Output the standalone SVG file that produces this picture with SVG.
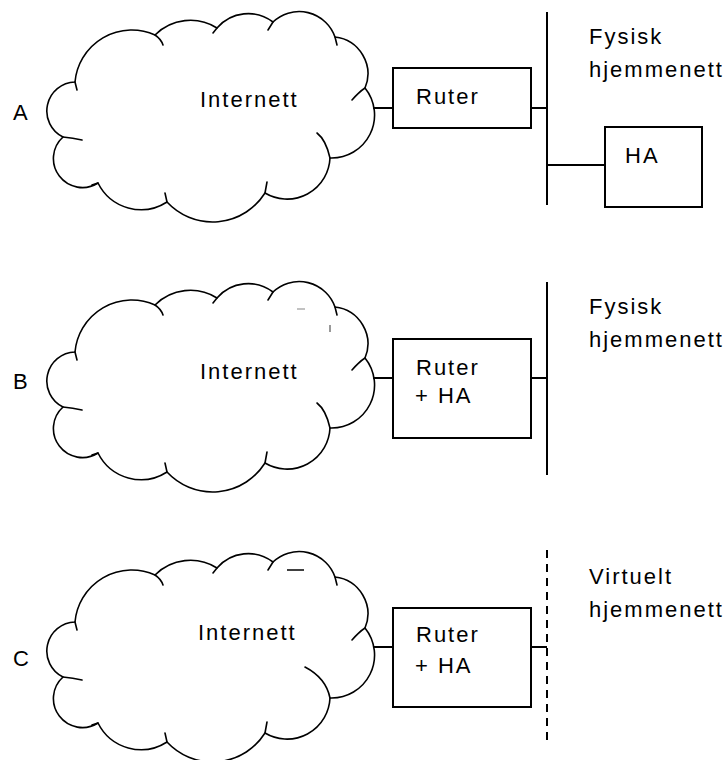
<svg xmlns="http://www.w3.org/2000/svg" xmlns:xlink="http://www.w3.org/1999/xlink" width="728" height="760" viewBox="0 0 728 760">
  <style>
    .bg { fill: #ffffff; }
    .cloud { fill: none; stroke: #000; stroke-width: 1.6; stroke-linejoin: round; stroke-linecap: round; }
    .box { fill: #ffffff; stroke: #000; stroke-width: 2; }
    .wire { fill: none; stroke: #000; stroke-width: 2; }
    .dashed { fill: none; stroke: #000; stroke-width: 2; stroke-dasharray: 8 6; }
    .lbl { font-family: "Liberation Sans", Arial, sans-serif; font-size: 22px; letter-spacing: 2px; fill: #000; }
  </style>
  <defs>
    <!-- scalloped cloud outline, eleven lobes, with short inward ticks at the cusps -->
    <g id="cloud">
      <path class="cloud" d="M155,35 A57,57 0 0,0 75,82 A29,29 0 0,0 63,137 A29,29 0 0,0 98,183 A48,48 0 0,0 167,202 A62,62 0 0,0 265,193 A43,43 0 0,0 330,158 A43,43 0 0,0 365,88 A37,37 0 0,0 335,37 A38,38 0 0,0 273,22 A41,41 0 0,0 217,28 A50,50 0 0,0 155,35 Z"/>
      <path class="cloud" d="M155,35 q6,4 8,10 M75,82 l2,8 M63,137 q10,1 19,3 M98,183 l-6,2 M167,202 l-2,-9 M265,193 l2,-11 M352,100 q7,-8 13,-12 M335,37 l2,8 M273,22 l-5,8 M217,28 l-4,5"/>
    </g>
  </defs>

  <rect class="bg" x="0" y="0" width="728" height="760"/>

  <!-- row A: router and a separate home agent on the physical home network -->
  <g id="labelA"><text class="lbl" x="13" y="120">A</text></g>
  <g id="internetA">
    <use xlink:href="#cloud" href="#cloud"/>
    <path class="cloud" d="M330,158 q-4,-18 -13,-25"/>
    <text class="lbl" x="200" y="107">Internett</text>
  </g>
  <g id="routerA">
    <rect class="box" x="393" y="68" width="138" height="60"/>
    <text class="lbl" x="416" y="104">Ruter</text>
  </g>
  <g id="homeagentA">
    <rect class="box" x="605" y="127" width="97" height="80"/>
    <text class="lbl" x="625" y="163">HA</text>
  </g>
  <g id="homenetA">
    <line class="wire" x1="547" y1="12" x2="547" y2="205"/>
    <text class="lbl" x="589" y="44">Fysisk</text>
    <text class="lbl" x="589" y="77">hjemmenett</text>
  </g>

  <!-- row B: router doubling as home agent, physical home network -->
  <g id="labelB"><text class="lbl" x="13" y="389">B</text></g>
  <g id="internetB">
    <use xlink:href="#cloud" href="#cloud" transform="translate(0,270)"/>
    <path class="cloud" d="M330,428 q-4,-18 -13,-25"/>
    <line x1="297" y1="309" x2="305" y2="309" stroke="#999" stroke-width="1.2"/>
    <line x1="330" y1="325" x2="330" y2="332" stroke="#555" stroke-width="1.2"/>
    <text class="lbl" x="200" y="379">Internett</text>
  </g>
  <g id="routerB">
    <rect class="box" x="393" y="339" width="138" height="99"/>
    <text class="lbl" x="416" y="375">Ruter</text>
    <text class="lbl" x="415" y="403">+ HA</text>
  </g>
  <g id="homenetB">
    <line class="wire" x1="547" y1="282" x2="547" y2="475"/>
    <text class="lbl" x="589" y="314">Fysisk</text>
    <text class="lbl" x="589" y="347">hjemmenett</text>
  </g>

  <!-- row C: router doubling as home agent, virtual home network -->
  <g id="labelC"><text class="lbl" x="13" y="666">C</text></g>
  <g id="internetC">
    <use xlink:href="#cloud" href="#cloud" transform="translate(0,540)"/>
    <path class="cloud" d="M330,698 q-4,-20 -25,-31"/>
    <line x1="287" y1="570" x2="304" y2="570" stroke="#000" stroke-width="1.5"/>
    <text class="lbl" x="198" y="640">Internett</text>
  </g>
  <g id="routerC">
    <rect class="box" x="393" y="608" width="138" height="99"/>
    <text class="lbl" x="416" y="642">Ruter</text>
    <text class="lbl" x="415" y="673">+ HA</text>
  </g>
  <g id="homenetC">
    <line class="dashed" x1="547" y1="550" x2="547" y2="742"/>
    <text class="lbl" x="589" y="584">Virtuelt</text>
    <text class="lbl" x="589" y="617">hjemmenett</text>
  </g>

  <!-- connectors -->
  <g id="connectors">
    <line class="wire" x1="373" y1="108" x2="393" y2="108"/>
    <line class="wire" x1="531" y1="108" x2="547" y2="108"/>
    <line class="wire" x1="547" y1="165" x2="605" y2="165"/>
    <line class="wire" x1="373" y1="378" x2="393" y2="378"/>
    <line class="wire" x1="531" y1="378" x2="547" y2="378"/>
    <line class="wire" x1="373" y1="647" x2="393" y2="647"/>
    <line class="wire" x1="531" y1="647" x2="547" y2="647"/>
  </g>
</svg>
